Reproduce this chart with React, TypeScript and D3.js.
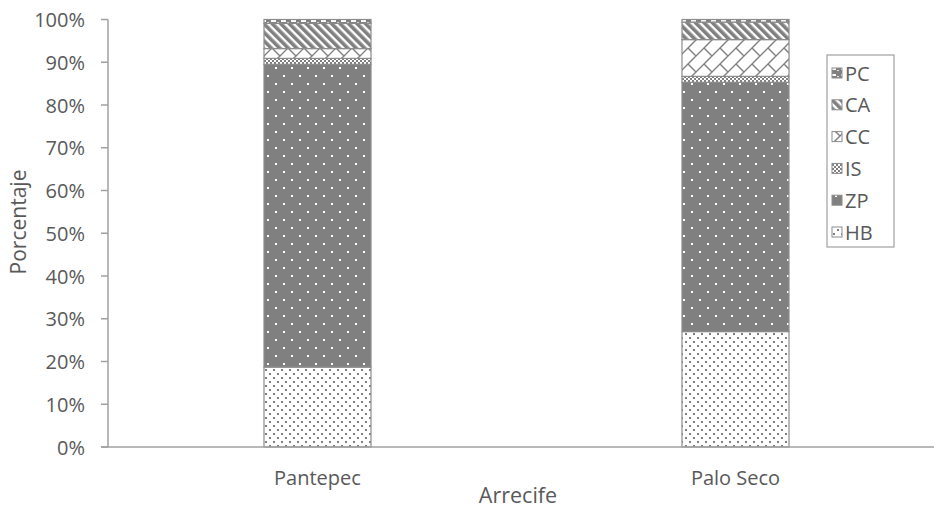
import React from "react";
import * as d3 from "d3";

// Reef sites and percentage composition of each cover category
const reefs = ["Pantepec", "Palo Seco"];
const categories = ["HB", "ZP", "IS", "CC", "CA", "PC"];
const HB = [18.7, 27.0];
const ZP = [70.8, 58.3];
const IS = [1.4, 1.4];
const CC = [2.3, 8.6];
const CA = [5.9, 4.1];
const PC = [0.9, 0.6];
const yTicks = [0, 10, 20, 30, 40, 50, 60, 70, 80, 90, 100];

const seriesValues: Record<string, number[]> = { HB, ZP, IS, CC, CA, PC };

const W = 934;
const H = 510;
const FONT = "'Open Sans', sans-serif";
const TEXT = "#595959";
const AXIS = "#a0a0a0";
const GRAY = "#808080";

export default function App() {
  const rows = reefs.map((r, i) => {
    const row: Record<string, number | string> = { reef: r };
    categories.forEach((c) => (row[c] = seriesValues[c][i]));
    return row;
  });
  const stacked = d3.stack<Record<string, number | string>>().keys(categories)(rows as any);

  const x = d3
    .scaleBand<string>()
    .domain(reefs)
    .range([108.5, 944.5])
    .paddingInner(0.744)
    .paddingOuter(0.372);
  const y = d3.scaleLinear().domain([0, 100]).range([447, 19.5]);

  const legendItems = [...categories].reverse();

  return (
    <svg width={W} height={H} style={{ position: "absolute", left: 0, top: 0, background: "#fff" }}>
      <defs>
        <pattern id="p-HB" width={8} height={8} patternUnits="userSpaceOnUse">
          <rect width={8} height={8} fill="#fff" />
          <rect x={1} y={1} width={2} height={2} fill={GRAY} />
          <rect x={5} y={5} width={2} height={2} fill={GRAY} />
        </pattern>
        <pattern id="p-ZP" width={16} height={16} patternUnits="userSpaceOnUse">
          <rect width={16} height={16} fill={GRAY} />
          <rect x={3} y={3} width={2} height={2} fill="#fff" />
          <rect x={11} y={11} width={2} height={2} fill="#fff" />
        </pattern>
        <pattern id="p-IS" width={4} height={4} patternUnits="userSpaceOnUse">
          <rect width={4} height={4} fill="#fff" />
          <rect x={0} y={0} width={2} height={2} fill={GRAY} />
          <rect x={2} y={2} width={2} height={2} fill={GRAY} />
        </pattern>
        <pattern id="p-CC" width={16} height={16} patternUnits="userSpaceOnUse">
          <rect width={16} height={16} fill="#fff" />
          <path d="M0,16 L16,0 M-1,1 L1,-1 M15,17 L17,15 M0,0 L8,8" stroke={GRAY} strokeWidth={1.4} fill="none" />
        </pattern>
        <pattern id="p-CA" width={6} height={6} patternUnits="userSpaceOnUse" patternTransform="rotate(-45)">
          <rect width={6} height={6} fill="#fff" />
          <rect x={0} y={0} width={3.6} height={6} fill={GRAY} />
        </pattern>
        <pattern id="p-PC" width={10} height={6} patternUnits="userSpaceOnUse">
          <rect width={10} height={6} fill={GRAY} />
          <rect x={1} y={2} width={5} height={2} fill="#fff" />
          <rect x={7} y={4} width={2} height={1} fill="#e6e6e6" />
        </pattern>
      </defs>

      {/* stacked bars */}
      {stacked.map((layer) => (
        <g key={layer.key}>
          {layer.map((d, i) => {
            const bx = x(reefs[i]) as number;
            const y0 = y(d[1]);
            const y1 = y(d[0]);
            return (
              <rect
                key={i}
                x={bx}
                y={y0}
                width={x.bandwidth()}
                height={y1 - y0}
                fill={`url(#p-${layer.key})`}
                stroke="#8c8c8c"
                strokeWidth={1.2}
              />
            );
          })}
        </g>
      ))}

      {/* y axis */}
      <line x1={108} x2={108} y1={y(100)} y2={y(0)} stroke={AXIS} strokeWidth={1.5} />
      {yTicks.map((t) => (
        <g key={t}>
          <line x1={101} x2={108} y1={y(t)} y2={y(t)} stroke={AXIS} strokeWidth={1.5} />
          <text
            x={85}
            y={y(t)}
            textAnchor="end"
            dominantBaseline="central"
            fontFamily={FONT}
            fontSize={20}
            fill={TEXT}
          >
            {`${t}%`}
          </text>
        </g>
      ))}

      {/* x axis */}
      <line x1={101} x2={W} y1={447} y2={447} stroke={AXIS} strokeWidth={1.5} />
      {reefs.map((r) => (
        <text
          key={r}
          x={(x(r) as number) + x.bandwidth() / 2}
          y={485}
          textAnchor="middle"
          fontFamily={FONT}
          fontSize={20}
          fill={TEXT}
        >
          {r}
        </text>
      ))}

      {/* axis titles */}
      <text x={518} y={503} textAnchor="middle" fontFamily={FONT} fontSize={21.5} fill={TEXT}>
        Arrecife
      </text>
      <text
        transform="translate(18,222) rotate(-90)"
        textAnchor="middle"
        dominantBaseline="central"
        fontFamily={FONT}
        fontSize={21}
        fill={TEXT}
      >
        Porcentaje
      </text>

      {/* legend */}
      <rect x={827} y={55} width={67} height={192} fill="#fff" stroke={AXIS} strokeWidth={1.2} />
      {legendItems.map((c, i) => {
        const cy = 73 + i * 31.8;
        return (
          <g key={c}>
            <rect x={832} y={cy - 5} width={10} height={10} fill={`url(#p-${c})`} stroke="#8c8c8c" strokeWidth={1} />
            <text x={845} y={cy} dominantBaseline="central" fontFamily={FONT} fontSize={20} fill={TEXT}>
              {c}
            </text>
          </g>
        );
      })}
    </svg>
  );
}
